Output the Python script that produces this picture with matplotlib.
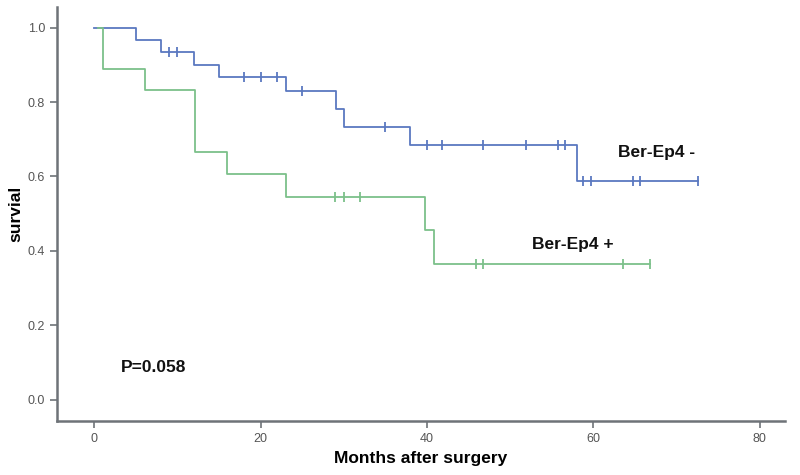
import matplotlib.pyplot as plt

plt.rcParams['font.family'] = ['Liberation Sans', 'DejaVu Sans']

# Ber-Ep4 negative group: step times (months) and survival after each step
neg_times = [1, 5, 8, 12, 15, 23, 29, 30, 38, 58, 72.6]
neg_surv = [1.0, 0.967, 0.935, 0.90, 0.866, 0.83, 0.78, 0.733, 0.685, 0.587, 0.587]
neg_cens_t = [9, 10, 18, 20, 22, 25, 35, 40, 41.8, 46.7, 51.9, 55.7, 56.6, 58.7, 59.7, 64.7, 65.6, 72.6]
neg_cens_s = [0.935, 0.935, 0.866, 0.866, 0.866, 0.83, 0.733, 0.685, 0.685, 0.685, 0.685, 0.685, 0.685,
              0.587, 0.587, 0.587, 0.587, 0.587]

# Ber-Ep4 positive group
pos_times = [0.5, 1.1, 6.1, 12.1, 16, 23, 39.8, 40.8, 66.8]
pos_surv = [1.0, 0.889, 0.833, 0.667, 0.606, 0.544, 0.456, 0.365, 0.365]
pos_cens_t = [28.9, 30, 31.9, 45.9, 46.7, 63.6, 66.8]
pos_cens_s = [0.544, 0.544, 0.544, 0.365, 0.365, 0.365, 0.365]

x_ticks = [0, 20, 40, 60, 80]
y_ticks = [0.0, 0.2, 0.4, 0.6, 0.8, 1.0]

blue = '#5a78c0'
green = '#7cc08a'
axis_col = '#6e7378'

fig = plt.figure(figsize=(8, 4.75), dpi=100)
ax = fig.add_axes([0.071, 0.113, 0.91, 0.872])

ax.step([0] + neg_times, [1.0] + neg_surv, where='post', color=blue, lw=1.3)
ax.plot(neg_cens_t, neg_cens_s, ls='none', marker='|', ms=7, mew=1.3, color=blue)
ax.step(pos_times, pos_surv, where='post', color=green, lw=1.3)
ax.plot(pos_cens_t, pos_cens_s, ls='none', marker='|', ms=7, mew=1.3, color=green)

ax.set_xlim(-4.5, 83)
ax.set_ylim(-0.058, 1.055)
ax.set_xticks(x_ticks)
ax.set_yticks(y_ticks)
ax.set_yticklabels([f'{v:.1f}' for v in y_ticks])

for side in ('top', 'right'):
    ax.spines[side].set_visible(False)
for side in ('left', 'bottom'):
    ax.spines[side].set_color(axis_col)
    ax.spines[side].set_linewidth(1.8)
ax.tick_params(colors=axis_col, labelcolor='#555555', labelsize=9, length=5, width=1.2)

ax.set_xlabel('Months after surgery', fontsize=12.5, fontweight='bold', labelpad=4)
ax.set_ylabel('survial', fontsize=12.5, fontweight='bold', labelpad=3)

ax.text(63.0, 0.652, 'Ber-Ep4 -', fontsize=12.5, fontweight='bold', color='#111111')
ax.text(52.6, 0.405, 'Ber-Ep4 +', fontsize=12.5, fontweight='bold', color='#111111')
ax.text(3.2, 0.075, 'P=0.058', fontsize=12.5, fontweight='bold', color='#111111')

fig.savefig('out.png', dpi=100)
